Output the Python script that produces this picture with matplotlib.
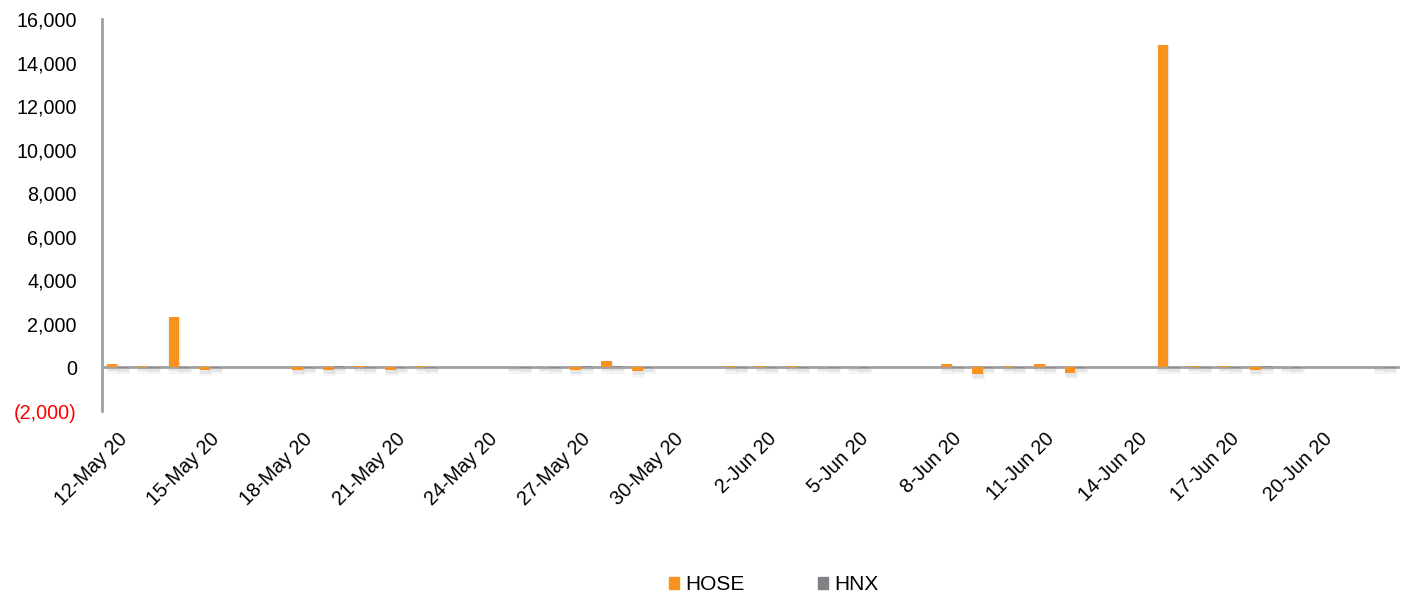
import matplotlib
matplotlib.use("Agg")
import matplotlib.pyplot as plt
import matplotlib.dates as mdates
import matplotlib.ticker as mticker
import pandas as pd
import numpy as np

plt.rcParams['font.family'] = ['Liberation Sans', 'DejaVu Sans']

# Trading days and net values (bn VND)
trade_dates = [
    "2020-05-12", "2020-05-13", "2020-05-14", "2020-05-15",
    "2020-05-18", "2020-05-19", "2020-05-20", "2020-05-21", "2020-05-22",
    "2020-05-25", "2020-05-26", "2020-05-27", "2020-05-28", "2020-05-29",
    "2020-06-01", "2020-06-02", "2020-06-03", "2020-06-04", "2020-06-05",
    "2020-06-08", "2020-06-09", "2020-06-10", "2020-06-11", "2020-06-12",
    "2020-06-15", "2020-06-16", "2020-06-17", "2020-06-18", "2020-06-19",
    "2020-06-22",
]
hose = [150, 80, 2330, -110,
        -100, -110, 80, -100, 70,
        20, 15, -120, 280, -180,
        60, 60, 60, 15, 15,
        140, -300, 70, 140, -250,
        14800, 70, 70, -100, 15,
        15]
hnx = [-20, -15, -20, -20,
       -20, 70, -25, -20, -20,
       -15, -20, 80, 80, -20,
       -20, -20, -20, -20, -20,
       -20, -20, -20, -20, -20,
       -20, -20, -20, 80, -20,
       -20]

y_ticks = [-2000, 0, 2000, 4000, 6000, 8000, 10000, 12000, 14000, 16000]

HOSE_COLOR = "#F7931E"
HNX_COLOR = "#8C8C8E"
AXIS_COLOR = "#A0A0A0"

dates = pd.to_datetime(trade_dates)
x = mdates.date2num(dates)

fig = plt.figure(figsize=(14.06, 5.94), dpi=100)
ax = fig.add_axes([0.0725, 0.308, 0.9232, 0.660])

bw = 0.34
off = bw / 2
hose_arr = np.array(hose, dtype=float)
hnx_arr = np.array(hnx, dtype=float)

# soft drop shadows under every bar
sh = 180
for xs, vals in ((x - off, hose_arr), (x + off, hnx_arr)):
    lo = np.minimum(vals, 0) - sh
    hi = np.maximum(vals, 0)
    ax.bar(xs + 0.03, hi - lo, bottom=lo, width=bw * 1.05,
           color="#d6d6d6", alpha=0.5, zorder=1, linewidth=0)
    ax.bar(xs + 0.03, hi - lo + sh * 0.6, bottom=lo - sh * 0.6, width=bw * 1.25,
           color="#e6e6e6", alpha=0.35, zorder=0.9, linewidth=0)

ax.bar(x - off, hose_arr, width=bw, color=HOSE_COLOR, zorder=3, label="HOSE", linewidth=0)
ax.bar(x + off, hnx_arr, width=bw, color=HNX_COLOR, zorder=3, label="HNX", linewidth=0)

ax.axhline(0, color=AXIS_COLOR, linewidth=2, zorder=2)

start = mdates.date2num(pd.Timestamp("2020-05-12"))
end = mdates.date2num(pd.Timestamp("2020-06-22"))
ax.set_xlim(start - 0.5, end + 0.5)
ax.set_ylim(-2000, 16000)

ax.set_yticks(y_ticks)


def fmt(v, pos):
    if v < 0:
        return "({:,.0f})".format(-v)
    return "{:,.0f}".format(v)


ax.yaxis.set_major_formatter(mticker.FuncFormatter(fmt))
ax.tick_params(axis="y", length=0, pad=18, labelsize=14.2, labelcolor="black")
for lbl, v in zip(ax.get_yticklabels(), y_ticks):
    if v < 0:
        lbl.set_color("red")

tick_range = pd.date_range("2020-05-12", "2020-06-20", freq="3D")
ax.set_xticks(mdates.date2num(tick_range))
ax.set_xticklabels([d.strftime("%-d-%b %y") for d in tick_range])
ax.tick_params(axis="x", length=0, pad=13, labelsize=14.2)
for lbl in ax.get_xticklabels():
    lbl.set_rotation(45)
    lbl.set_ha("right")
    lbl.set_va("top")
    lbl.set_rotation_mode("anchor")

for s in ("top", "right", "bottom"):
    ax.spines[s].set_visible(False)
ax.spines["left"].set_color(AXIS_COLOR)
ax.spines["left"].set_linewidth(2)

leg = fig.legend(handles=[plt.Rectangle((0, 0), 1, 1, color=HOSE_COLOR),
                          plt.Rectangle((0, 0), 1, 1, color="#808285")],
                 labels=["HOSE", "HNX"], loc="center", ncol=2,
                 bbox_to_anchor=(0.5502, 0.016), frameon=False, fontsize=15,
                 handlelength=0.5, handleheight=0.5, handletextpad=0.3,
                 columnspacing=3.5, borderpad=0, borderaxespad=0)

fig.savefig("out.png", dpi=100)
